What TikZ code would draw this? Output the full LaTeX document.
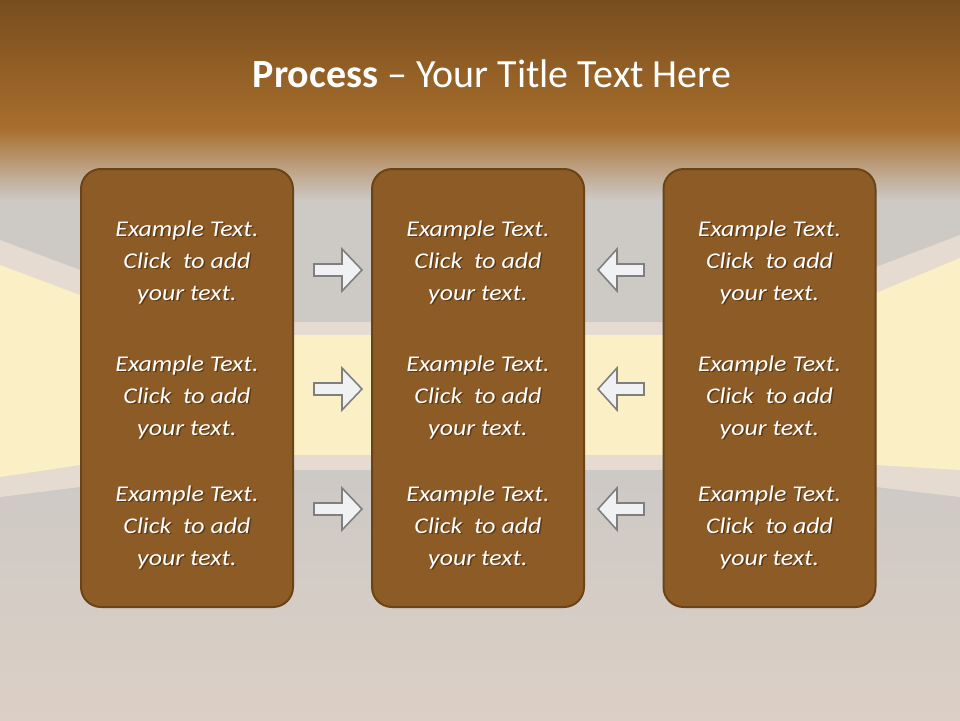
\documentclass[tikz,border=0pt]{standalone}
\usepackage{fontspec}
\setmainfont{Carlito}
\newfontfamily\bodyfont[FakeStretch=1.15]{Carlito}
\usetikzlibrary{positioning}
\definecolor{topbrown}{RGB}{120,77,29}
\definecolor{midbrown}{RGB}{168,110,45}
\definecolor{fadebrown}{RGB}{200,154,122}
\definecolor{wallgray}{RGB}{205,201,197}
\definecolor{floorbeige}{RGB}{220,207,197}
\definecolor{stripebeige}{RGB}{229,219,209}
\definecolor{wallyellow}{RGB}{251,239,198}
\definecolor{boxbrown}{RGB}{141,91,38}
\definecolor{boxedge}{RGB}{106,68,23}
\definecolor{arrowfill}{RGB}{240,241,243}
\definecolor{arrowedge}{RGB}{127,127,127}
\definecolor{shadowbrown}{RGB}{50,30,8}
\tikzset{
  stepbox/.style={rectangle, rounded corners=20pt, draw=boxedge, line width=2pt, fill=boxbrown, minimum width=212pt, minimum height=438pt, inner sep=0pt},
  bodytext/.style={align=center, text=white, font=\bodyfont\fontsize{22.5}{32}\selectfont\itshape, inner sep=0pt},
  textshadow/.style={bodytext, text=shadowbrown, opacity=0.55},
  blockarrow/.style={fill=arrowfill, draw=arrowedge, line width=1.6pt, line join=miter},
  titletext/.style={text=white, font=\fontsize{40}{46}\selectfont, anchor=base}
}

\begin{document}
\begin{tikzpicture}[x=1pt,y=-1pt]
  \useasboundingbox (0,0) rectangle (960,720);
  % room in the background
  \fill[wallgray] (0,0) rectangle (960,720);
  \shade[top color=topbrown, bottom color=midbrown] (0,0) rectangle (960,128);
  \shade[top color=midbrown, middle color=fadebrown, bottom color=wallgray] (0,128) rectangle (960,200);
  \shade[top color=wallgray, bottom color=floorbeige] (0,470) rectangle (960,720);
  \fill[stripebeige] (80,322) rectangle (876,470);
  \fill[wallyellow] (80,335) rectangle (876,455);
  \fill[stripebeige] (0,240) -- (80,270) -- (80,487) -- (0,497) -- cycle;
  \fill[wallyellow] (0,265) -- (80,295) -- (80,465) -- (0,477) -- cycle;
  \fill[stripebeige] (960,235) -- (876,267) -- (876,487) -- (960,497) -- cycle;
  \fill[wallyellow] (960,258) -- (876,293) -- (876,465) -- (960,470) -- cycle;
  % title
  \node[titletext] (title) at (492,87) {\textbf{Process} -- Your Title Text Here};
  % the three columns
  \node[stepbox] (boxL) at (187,388) {};
  \node[stepbox] (boxM) at (478,388) {};
  \node[stepbox] (boxR) at (769.5,388) {};
  \foreach \bx/\nm in {187/L,478/M,769.5/R}{
    \foreach \ty [count=\i] in {262,397,527}{
      \node[textshadow] (sh\nm\i) at (\bx+1.5,\ty+1.5) {Example Text.\\Click \ to add\\your text.};
      \node[bodytext] (txt\nm\i) at (\bx,\ty) {Example Text.\\Click \ to add\\your text.};
    }
  }
  % block arrows
  \foreach \ay in {270,389,509}{
    \draw[blockarrow] (314,\ay-6) -- (342,\ay-6) -- (342,\ay-21) -- (362,\ay) -- (342,\ay+21) -- (342,\ay+6) -- (314,\ay+6) -- cycle;
    \draw[blockarrow] (644,\ay-6) -- (617,\ay-6) -- (617,\ay-21) -- (598,\ay) -- (617,\ay+21) -- (617,\ay+6) -- (644,\ay+6) -- cycle;
  }
\end{tikzpicture}
\end{document}
